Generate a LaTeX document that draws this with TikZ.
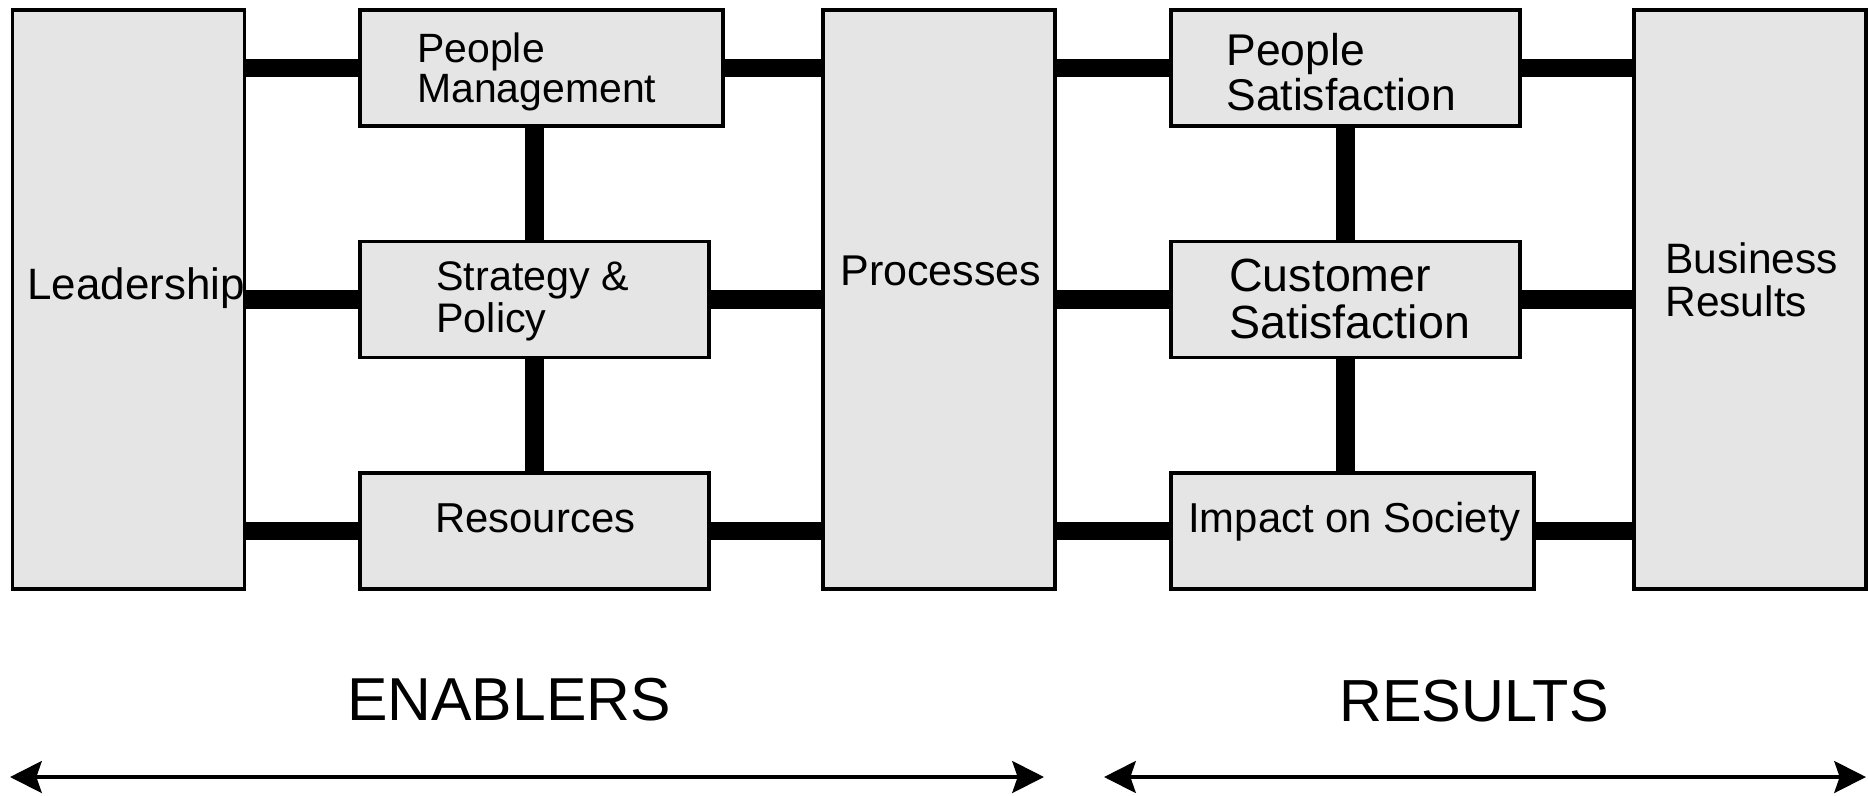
\documentclass[tikz,border=0pt]{standalone}
\usepackage{fontspec}
\setmainfont{Liberation Sans}
\usetikzlibrary{arrows.meta}
\begin{document}
\begin{tikzpicture}[x=0.02cm,y=-0.02cm,
  box/.style={draw=black, line width=2pt, fill=black!10, inner sep=0pt, anchor=center},
  wide/.style={minimum width=363*0.02cm, minimum height=116*0.02cm},
  mid/.style={minimum width=349*0.02cm, minimum height=116*0.02cm},
  tall/.style={minimum width=232*0.02cm, minimum height=579*0.02cm},
  bar/.style={line width=10.8pt},
  lbl/.style={anchor=west, inner sep=0pt, align=left},
  tip/.tip={Stealth[length=18pt,width=18pt,inset=3pt]},
  span/.style={line width=2.6pt, tip-tip},
]
\useasboundingbox (0,0) rectangle (1868,795);

% enablers and results blocks
\node[box, tall] (lead) at (128.5,299.5) {};
\node[box, wide] (pm)   at (541.5,68) {};
\node[box, mid]  (sp)   at (534.5,299.5) {};
\node[box, mid]  (res)  at (534.5,531) {};
\node[box, tall] (proc) at (939,299.5) {};
\node[box, mid]  (ps)   at (1345.5,68) {};
\node[box, mid]  (cs)   at (1345.5,299.5) {};
\node[box, wide] (ios)  at (1352.5,531) {};
\node[box, tall] (br)   at (1750,299.5) {};

% thick links between the blocks
\begin{scope}[bar]
  \draw (lead.east |- pm.west) -- (pm.west);
  \draw (lead.east |- sp.west) -- (sp.west);
  \draw (lead.east |- res.west) -- (res.west);
  \draw (pm.east) -- (proc.west |- pm.east);
  \draw (sp.east) -- (proc.west |- sp.east);
  \draw (res.east) -- (proc.west |- res.east);
  \draw (proc.east |- ps.west) -- (ps.west);
  \draw (proc.east |- cs.west) -- (cs.west);
  \draw (proc.east |- ios.west) -- (ios.west);
  \draw (ps.east) -- (br.west |- ps.east);
  \draw (cs.east) -- (br.west |- cs.east);
  \draw (ios.east) -- (br.west |- ios.east);
  \draw (sp.north |- pm.south) -- (sp.north);
  \draw (sp.south) -- (res.north);
  \draw (cs.north |- ps.south) -- (cs.north);
  \draw (cs.south) -- (cs.south |- ios.north);
\end{scope}

% block labels
\node[lbl, font={\fontsize{25}{26}\selectfont}]     (tlead) at (27,288)  {Leadership};
\node[lbl, font={\fontsize{23.3}{23}\selectfont}]   (tpm)   at (417,72)  {People\\Management};
\node[lbl, font={\fontsize{23.5}{23.9}\selectfont}] (tsp)   at (436,301) {Strategy \&\\Policy};
\node[lbl, font={\fontsize{23.8}{25}\selectfont}]   (tres)  at (435,518) {Resources};
\node[lbl, font={\fontsize{24.5}{25}\selectfont}]   (tproc) at (840,271) {Processes};
\node[lbl, font={\fontsize{25.3}{25.3}\selectfont}] (tps)   at (1226,72) {People\\Satisfaction};
\node[lbl, font={\fontsize{26.5}{26.7}\selectfont}] (tcs)   at (1229,299) {Customer\\Satisfaction};
\node[lbl, font={\fontsize{23.8}{25}\selectfont}]   (tios)  at (1188,522) {Impact on Society};
\node[lbl, font={\fontsize{24.2}{24.8}\selectfont}] (tbr)   at (1665,280) {Business\\Results};

% group captions
\node[font={\fontsize{34.5}{36}\selectfont}, inner sep=0pt] (en) at (509,700) {ENABLERS};
\node[font={\fontsize{33.8}{36}\selectfont}, inner sep=0pt] (rs) at (1474,701) {RESULTS};

% extent arrows
\coordinate (enL) at (10,777);
\coordinate (enR) at (1044,777);
\coordinate (rsL) at (1104,777);
\coordinate (rsR) at (1866,777);
\draw[span] (enL) -- (enR);
\draw[span] (rsL) -- (rsR);
\end{tikzpicture}
\end{document}
